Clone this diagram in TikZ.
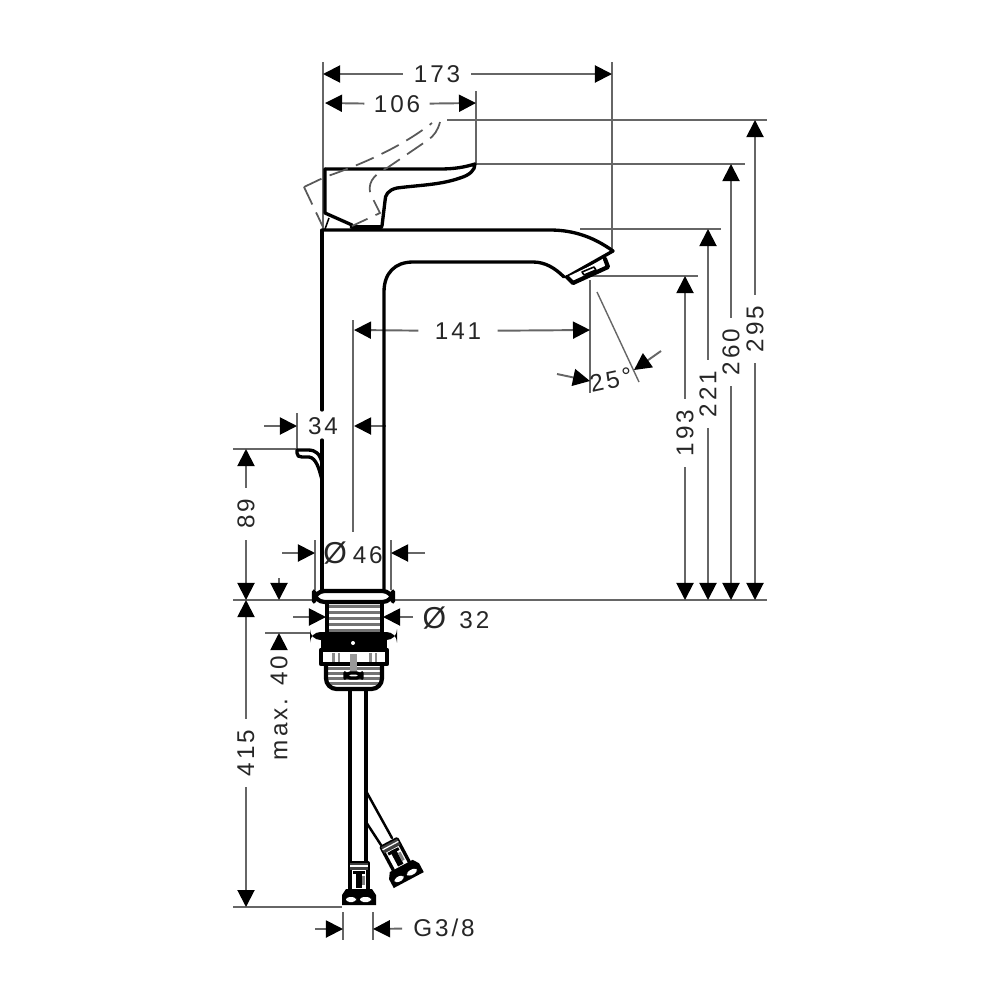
\documentclass[tikz,border=0pt]{standalone}
\usepackage{fontspec}
\setmainfont[LetterSpace=12]{Liberation Sans}
\usetikzlibrary{arrows.meta}
\newcommand{\dia}{{\fontsize{8.6}{9}\selectfont Ø}}
\tikzset{
  part/.style={line width=.95pt,line cap=round,line join=round},
  thin part/.style={line width=.45pt},
  ghost/.style={line width=.5pt,black!65,dash pattern=on 5.5pt off 2.5pt},
  extline/.style={line width=.55pt,black!60},
  dimline/.style={line width=.55pt,black!60,-{Triangle[length=.17cm,width=.17cm,black]}},
  dimlabel/.style={font=\fontsize{6.9}{8}\selectfont,text=black!85,inner sep=3pt},
  vlabel/.style={dimlabel,rotate=90}
}
\begin{document}
\begin{tikzpicture}[x=.01cm,y=-.01cm]
  \useasboundingbox (0,0) rectangle (1000,1000);

  % extension lines
  \draw[extline] (323,62) -- (323,230);
  \draw[extline] (612,62) -- (612,250);
  \draw[extline] (476,91) -- (476,165);
  \draw[extline] (447,120) -- (767,120);
  \draw[extline] (476,164) -- (745,164);
  \draw[extline] (580,229) -- (721,229);
  \draw[extline] (590,276) -- (698,276);
  \draw[extline] (233,600) -- (767,600);
  \draw[extline] (590,280) -- (590,393);
  \draw[extline,line width=.4pt] (597,292) -- (639,382);
  \draw[extline] (353,320) -- (353,532);
  \draw[extline] (297,413) -- (297,450);
  \draw[extline] (233,449) -- (297,449);
  \draw[extline] (315,540) -- (315,590);
  \draw[extline] (391,540) -- (391,590);
  \draw[extline] (265,633) -- (310,633);
  \draw[extline] (233,907) -- (342,907);
  \draw[extline] (343,912) -- (343,940);
  \draw[extline] (373,912) -- (373,940);

  % horizontal dimensions
  \node[dimlabel] (l173) at (437,74) {173};
  \coordinate (a173) at (323,74);
  \coordinate (b173) at (612,74);
  \draw[dimline] (l173) -- (a173);
  \draw[dimline] (l173) -- (b173);

  \node[dimlabel,inner sep=2.5pt] (l106) at (397,104) {106};
  \coordinate (a106) at (325,103);
  \coordinate (b106) at (476,103);
  \draw[dimline] (l106) -- (a106);
  \draw[dimline] (l106) -- (b106);

  \node[dimlabel,inner sep=4.5pt] (l141) at (458,331) {141};
  \coordinate (a141) at (354,330);
  \coordinate (b141) at (590,330);
  \draw[dimline] (l141) -- (a141);
  \draw[dimline] (l141) -- (b141);

  \node[dimlabel,rotate=12] (l25) at (611,380) {25°};
  \coordinate (s25a) at (557,374);
  \coordinate (e25a) at (590,381);
  \coordinate (s25b) at (661,351);
  \coordinate (e25b) at (634,370);
  \draw[dimline] (s25a) -- (e25a);
  \draw[dimline] (s25b) -- (e25b);

  \node[dimlabel] (l34) at (323,426) {34};
  \coordinate (s34a) at (264,426);
  \coordinate (e34a) at (297,426);
  \coordinate (s34b) at (386,426);
  \coordinate (e34b) at (354,426);
  \draw[dimline] (s34a) -- (e34a);
  \draw[dimline] (s34b) -- (e34b);

  \node[dimlabel] (l46) at (353,553) {\dia\hspace{.25em}46};
  \coordinate (s46a) at (282,553);
  \coordinate (e46a) at (315,553);
  \coordinate (s46b) at (425,553);
  \coordinate (e46b) at (391,553);
  \draw[dimline] (s46a) -- (e46a);
  \draw[dimline] (s46b) -- (e46b);

  \node[dimlabel] (l32) at (456,618) {\dia\hspace{.55em}32};
  \coordinate (s32a) at (293,617);
  \coordinate (e32a) at (326,617);
  \coordinate (s32b) at (413,617);
  \coordinate (e32b) at (383,617);
  \draw[dimline] (s32a) -- (e32a);
  \draw[dimline] (s32b) -- (e32b);

  \node[dimlabel] (l38) at (444,928) {G3/8};
  \coordinate (s38a) at (315,929);
  \coordinate (e38a) at (343,929);
  \coordinate (e38b) at (373,929);
  \draw[dimline] (s38a) -- (e38a);
  \draw[dimline] (l38) -- (e38b);

  % vertical dimensions
  \node[vlabel] (l295) at (755,329) {295};
  \coordinate (t295) at (755,120);
  \coordinate (b295) at (755,600);
  \draw[dimline] (l295) -- (t295);
  \draw[dimline] (l295) -- (b295);

  \node[vlabel] (l260) at (731,352) {260};
  \coordinate (t260) at (731,164);
  \coordinate (b260) at (731,600);
  \draw[dimline] (l260) -- (t260);
  \draw[dimline] (l260) -- (b260);

  \node[vlabel] (l221) at (708,394) {221};
  \coordinate (t221) at (708,229);
  \coordinate (b221) at (708,600);
  \draw[dimline] (l221) -- (t221);
  \draw[dimline] (l221) -- (b221);

  \node[vlabel] (l193) at (685,433) {193};
  \coordinate (t193) at (685,276);
  \coordinate (b193) at (685,600);
  \draw[dimline] (l193) -- (t193);
  \draw[dimline] (l193) -- (b193);

  \node[vlabel] (l89) at (246,514) {89};
  \coordinate (t89) at (246,449);
  \coordinate (b89) at (246,600);
  \draw[dimline] (l89) -- (t89);
  \draw[dimline] (l89) -- (b89);

  \node[vlabel] (l415) at (246,753) {415};
  \coordinate (t415) at (246,600);
  \coordinate (b415) at (246,907);
  \draw[dimline] (l415) -- (t415);
  \draw[dimline] (l415) -- (b415);

  \node[vlabel] (l40) at (279,708) {max. 40};
  \coordinate (t40) at (279,633);
  \coordinate (s40) at (279,578);
  \coordinate (e40) at (279,600);
  \draw[dimline] (l40) -- (t40);
  \draw[dimline] (s40) -- (e40);

  % body
  \draw[part] (322,230) -- (322,410);
  \draw[part] (322,440) -- (322,590);
  \draw[part] (384,590) -- (384,292)
    .. controls (384,273) and (395,262) .. (413,262) -- (533,262)
    .. controls (545,262) and (555,268) .. (564,277);
  \draw[part] (323,230) -- (550,230)
    .. controls (575,230) and (595,238) .. (613,251) -- (567,277);

  % aerator
  \draw[part,line width=1.2pt,fill=white] (567,277) -- (573,283) -- (608,267) -- (605,259);
  \draw[part,thin part] (582,272) -- (594,267) -- (596,270) -- (584,275) -- cycle;

  % lever
  \draw[part] (325,169) -- (440,169)
    .. controls (455,169) and (465,167) .. (475,164)
    .. controls (475,170) and (470,175) .. (460,178)
    .. controls (440,185) and (420,185) .. (397,188)
    .. controls (388,190) and (385,195) .. (385,201)
    -- (382,226);
  \draw[part] (325,169) -- (325,213) -- (352,225);
  \draw[part,line width=1.3pt] (352,227) -- (381,227);
  \draw[thin part] (329,218) -- (325,229);
  \draw[ghost] (304,187) -- (323,227);
  \draw[ghost] (304,187) -- (325,177)
    .. controls (360,165) and (400,148) .. (432,123);
  \draw[ghost] (440,122) .. controls (438,130) and (434,136) .. (428,140) -- (387,168)
    .. controls (372,175) and (367,185) .. (371,195) -- (380,213) -- (352,226);

  % pop-up rod
  \draw[part] (322,463) .. controls (320,454) and (316,450) .. (308,450) -- (297,450)
    -- (297,453) .. controls (297,456) and (299,457) .. (302,457) -- (309,457)
    .. controls (316,458) and (319,468) .. (322,480);

  % base
  \foreach \yy in {606,612,...,630} {
    \draw[black!55,line width=.85pt] (327,\yy) -- (382,\yy);
  }
  \draw[part] (327,602) -- (327,632);
  \draw[part] (382,602) -- (382,632);
  \draw[part,line width=1.2pt,fill=white,rounded corners=3pt] (314,591) rectangle (393,602);
  \fill[rounded corners=3pt] (310,632) rectangle (397,640);
  \fill (321,640) rectangle (387,652);
  \fill[white] (353,643) circle (2);
  \foreach \xx/\ww in {332/3,338/2,369/3,375/2} {
    \fill[black!45] (\xx,653) rectangle ++(\ww,10);
  }
  \foreach \yy in {668,673,...,685} {
    \draw[black!55,line width=.85pt] (327,\yy) -- (381,\yy);
  }
  \draw[part,line width=1.2pt] (321,650) -- (321,664) -- (387,664) -- (387,650);
  \draw[part,line width=1.2pt,rounded corners=3pt] (326,664) -- (326,689) -- (382,689) -- (382,664);
  \fill[black!40] (350,654) rectangle (357,673);
  \draw[part,fill=white,rounded corners=1.5pt] (345,673) rectangle (362,678);

  % hoses
  \draw[part] (350,689) -- (350,863);
  \draw[part] (366,689) -- (366,863);
  \draw[part,line width=.7pt] (366,791) -- (392,838);
  \draw[part,line width=.7pt] (366,822) -- (381,845);

  % fittings
  \foreach \cx/\cy/\ang in {359/897/0,405/873/28} {
    \begin{scope}[shift={(\cx,\cy)},rotate=\ang]
      \draw[part,fill=white] (-9,-8) -- (-9,-34) -- (9,-34) -- (9,-8);
      \fill[black!75] (-9,-34) rectangle (9,-27);
      \draw[white,line width=.35pt] (-9,-31) -- (9,-31);
      \fill (-3,-26) rectangle (3,-9);
      \fill (-6,-26) rectangle (6,-23);
      \fill[black!50] (3,-21) rectangle (6,-12);
      \fill (-17,8) -- (-17,-2) -- (-13,-8) -- (13,-8) -- (17,-2) -- (17,8) -- cycle;
      \fill[white,rounded corners=1pt] (-13,0) rectangle (-3,5);
      \fill[white,rounded corners=1pt] (1,0) rectangle (12,5);
    \end{scope}
  }
\end{tikzpicture}
\end{document}
